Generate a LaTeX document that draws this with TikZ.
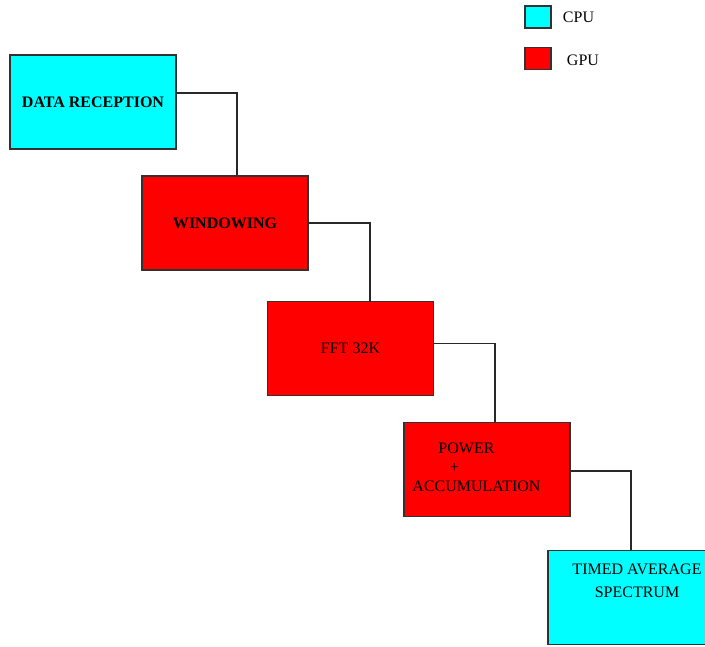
\documentclass[tikz,border=0pt]{standalone}
\usepackage{fontspec}
\setmainfont{Liberation Serif}
\usetikzlibrary{positioning}

\tikzset{
  stagebox/.style={draw={rgb,255:red,50; green,50; blue,50}, line width=0.9pt, minimum width=124.5pt, minimum height=70.5pt, inner sep=0pt},
  cpubox/.style={stagebox, fill={rgb,255:red,0; green,255; blue,255}},
  gpubox/.style={stagebox, fill={rgb,255:red,255; green,0; blue,0}},
  txt/.style={font=\fontsize{12}{14.25}\selectfont},
  link/.style={draw={rgb,255:red,40; green,40; blue,40}, line width=0.8pt},
}

\begin{document}
\begin{tikzpicture}[x=0.75pt, y=-0.75pt]
    \useasboundingbox (0,0) rectangle (705,646);
    % legend
    \node [cpubox, minimum width=19.5pt, minimum height=16.5pt] (cpukey) at (538,17) {};
    \node [txt, right=5pt of cpukey] (cpulbl) {CPU};
    \node [gpubox, minimum width=19.5pt, minimum height=16.5pt] (gpukey) at (538,58.5) {};
    \node [txt, right=8pt of gpukey, yshift=-1.5pt] (gpulbl) {GPU};

    % stages
    \node [cpubox, txt, font=\fontsize{12}{14.25}\selectfont\bfseries] (datarx) at (93,102) {DATA RECEPTION};
    \node [gpubox, txt, font=\fontsize{12}{14.25}\selectfont\bfseries] (window) at (225,223) {WINDOWING};
    \node [gpubox, txt] (fft) at (350.5,348.5) {FFT 32K};
    \node [gpubox, label={[txt, align=left, xshift=-7.9pt, yshift=2pt]center:\hspace*{19.5pt}POWER\\\hspace*{28pt}+\\ACCUMULATION}] (power) at (487,469.5) {};
    \node [cpubox, label={[txt, font=\fontsize{12}{17.25}\selectfont, align=center, anchor=north, xshift=4.5pt, yshift=-6.8pt]north:TIMED AVERAGE\\SPECTRUM}] (spectrum) at (631,597.5) {};

    % links
    \draw [link] ([yshift=6.75pt]datarx.east) -| ([xshift=9pt]window.north);
    \draw [link] (window.east) -| ([xshift=14.6pt]fft.north);
    \draw [link] ([yshift=3.75pt]fft.east) -| ([xshift=6pt]power.north);
    \draw [link] ([yshift=-1.1pt]power.east) -| (spectrum.north);
\end{tikzpicture}
\end{document}
